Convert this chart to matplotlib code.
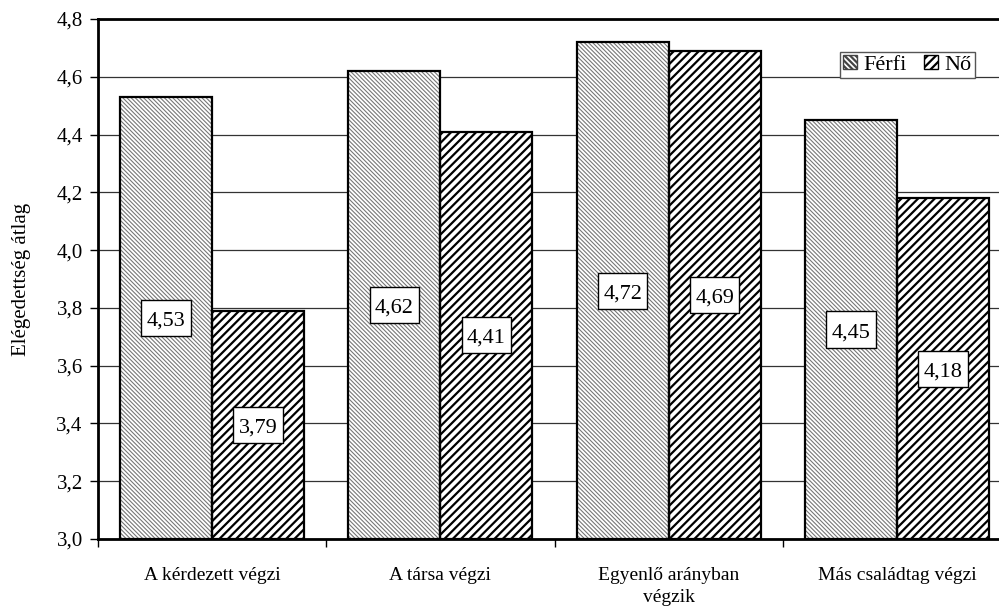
import matplotlib
matplotlib.use("Agg")
import matplotlib.pyplot as plt
import numpy as np
from matplotlib.patches import Patch, Rectangle
from matplotlib.offsetbox import DrawingArea, AnnotationBbox
from matplotlib.text import Text

categories = ["A kérdezett végzi", "A társa végzi", "Egyenlő arányban\nvégzik", "Más családtag végzi"]
ferfi = [4.53, 4.62, 4.72, 4.45]
no = [3.79, 4.41, 4.69, 4.18]
series_names = ["Férfi", "Nő"]
yticks = [3.0, 3.2, 3.4, 3.6, 3.8, 4.0, 4.2, 4.4, 4.6, 4.8]

plt.rcParams['font.family'] = ['Liberation Serif', 'DejaVu Serif']

fig = plt.figure(figsize=(9.99, 6.12), dpi=100)
ax = fig.add_axes([98/999, 73/612, 913/999, 520/612])

x = np.arange(len(categories))
w = 0.403

def hatched(xpos, vals, hatch, hcolor, hlw):
    bars = ax.bar(xpos, np.array(vals) - 3.0, bottom=3.0, width=w, color='white',
                  edgecolor=hcolor, hatch=hatch, linewidth=0, zorder=2)
    for b in bars:
        if hasattr(b, 'set_hatch_linewidth'):
            b.set_hatch_linewidth(hlw)
    ax.bar(xpos, np.array(vals) - 3.0, bottom=3.0, width=w, fill=False,
           edgecolor='black', linewidth=1.6, zorder=3)
    return bars

plt.rcParams['hatch.linewidth'] = 0.8
b1 = hatched(x - w/2, ferfi, '\\\\\\\\\\\\\\\\', '#777777', 0.8)
plt.rcParams['hatch.linewidth'] = 1.6
b2 = hatched(x + w/2, no, '////', 'black', 1.6)

BW, BH = 35.5, 26.0  # label box size in points
for xpos, vals in ((x - w/2, ferfi), (x + w/2, no)):
    for xi, v in zip(xpos, vals):
        da = DrawingArea(BW, BH, 0, 0)
        da.add_artist(Rectangle((0, 0), BW, BH, facecolor='white', edgecolor='black', linewidth=1))
        da.add_artist(Text(BW / 2, BH / 2 - 0.5, f"{v:.2f}".replace('.', ','), ha='center',
                           va='center_baseline', fontsize=16,
                           fontfamily=['Liberation Serif', 'DejaVu Serif']))
        ab = AnnotationBbox(da, (xi, (3.0 + v) / 2), xycoords='data', frameon=False,
                            pad=0, box_alignment=(0.5, 0.5), zorder=5)
        ax.add_artist(ab)

ax.set_xlim(-0.5, 3.5)
ax.set_ylim(3.0, 4.8)
ax.set_yticks(yticks)
ax.set_yticklabels([f"{t:.1f}".replace('.', ',') for t in yticks], fontsize=15)
ax.yaxis.grid(True, color='#333333', linewidth=0.9, zorder=0)
ax.set_axisbelow(True)
ax.tick_params(axis='y', length=6, width=1, direction='out', pad=5)

ax.set_xticks(x)
ax.set_xticklabels(categories, fontsize=14, multialignment='center', linespacing=1.4)
ax.tick_params(axis='x', which='major', length=0, pad=20)
ax.set_xticks([-0.5, 0.5, 1.5, 2.5, 3.5], minor=True)
ax.tick_params(axis='x', which='minor', length=6, width=1, direction='out')

for s in ['left', 'bottom', 'top', 'right']:
    ax.spines[s].set_linewidth(2)
    ax.spines[s].set_color('black')

ax.set_ylabel("Elégedettség átlag", fontsize=15, labelpad=18)

h1 = Patch(facecolor='white', edgecolor='#444444', hatch='\\\\\\\\\\\\', linewidth=1)
h2 = Patch(facecolor='white', edgecolor='black', hatch='////', linewidth=1)
leg = ax.legend([h1, h2], series_names, loc='upper left', bbox_to_anchor=(0.8127, 0.937),
                ncol=2, fontsize=16, frameon=True, fancybox=False, framealpha=1,
                handlelength=0.6, handleheight=0.6, handletextpad=0.3,
                columnspacing=0.8, borderpad=0.15, borderaxespad=0)
leg.get_frame().set_edgecolor('#555555')
leg.get_frame().set_linewidth(1)
leg.set_zorder(6)

fig.savefig("out.png", dpi=100)
